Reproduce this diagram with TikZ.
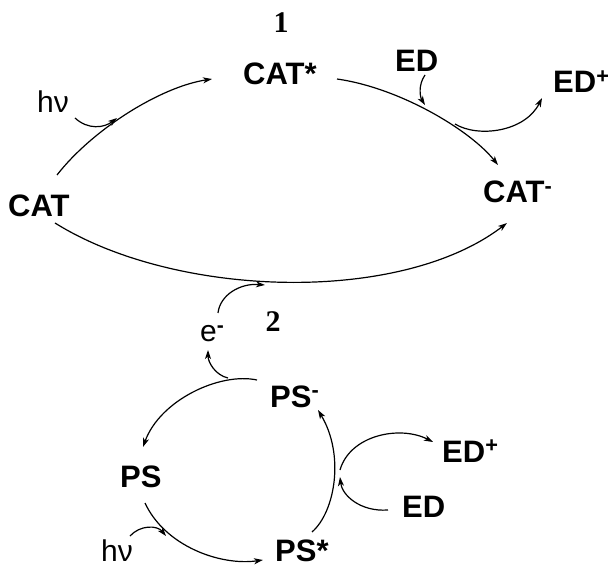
\documentclass[tikz,border=0pt]{standalone}
\usepackage{fontspec}
\setmainfont{Liberation Sans}
\newfontfamily\numfont{Liberation Serif}
\usetikzlibrary{arrows.meta}
\begin{document}
\begin{tikzpicture}[x=1pt,y=-1pt,
  lbl/.style={inner sep=0pt,font=\fontsize{31}{36}\selectfont\bfseries},
  rlbl/.style={inner sep=0pt,font=\fontsize{30}{36}\selectfont},
  num/.style={inner sep=0pt,font=\fontsize{30}{36}\selectfont\numfont\bfseries},
  arr/.style={line width=1.2pt,-{Stealth[length=9pt,width=6pt,inset=2.5pt]}},
  ln/.style={line width=1.2pt}]
\useasboundingbox (0,0) rectangle (608,569);
% labels
\node[num,anchor=base] (one) at (281,33) {1};
\node[lbl,anchor=base west] (cat) at (8,217) {CAT};
\node[lbl,anchor=base west] (catstar) at (243,85) {CAT*};
\node[lbl,anchor=base west] (catm) at (483,203) {CAT\textsuperscript{-}};
\node[lbl,anchor=base west] (edtop) at (395,72) {ED};
\node[lbl,anchor=base west] (edptop) at (553,93) {ED\textsuperscript{+}};
\node[rlbl,anchor=base west] (hv1) at (37,113) {hν};
\node[rlbl,anchor=base west] (em) at (200,342) {e\textsuperscript{\bfseries -}};
\node[num,anchor=base] (two) at (273,332) {2};
\node[lbl,anchor=base west] (psm) at (270,407) {PS\textsuperscript{-}};
\node[lbl,anchor=base west] (edpbot) at (442,462) {ED\textsuperscript{+}};
\node[lbl,anchor=base west] (ps) at (120,487) {PS};
\node[lbl,anchor=base west] (edbot) at (402,517) {ED};
\node[lbl,anchor=base west] (psstar) at (275,561) {PS*};
\node[rlbl,anchor=base west] (hv2) at (101,561) {hν};
% coordinates
\coordinate (c1s) at (57,175);
\coordinate (c1e) at (212,79);
\coordinate (h1s) at (75,118);
\coordinate (h1e) at (117,118);
\coordinate (c2s) at (337,79);
\coordinate (c2e) at (498,165);
\coordinate (e1s) at (425,75);
\coordinate (e1e) at (425,105);
\coordinate (p1s) at (455,124);
\coordinate (p1e) at (542,98);
\coordinate (c3s) at (55,223);
\coordinate (c3e) at (507,223);
\coordinate (els) at (218,313);
\coordinate (ele) at (265,285);
\coordinate (b1s) at (257,380);
\coordinate (b1e) at (143,447);
\coordinate (ebs) at (228,378);
\coordinate (ebe) at (208,350);
\coordinate (b2s) at (145,503);
\coordinate (b2e) at (263,560);
\coordinate (h2s) at (130,536);
\coordinate (h2e) at (166,536);
\coordinate (b3s) at (312,532);
\coordinate (b3e) at (318,410);
\coordinate (e2s) at (388,510);
\coordinate (e2e) at (340,477);
\coordinate (p2s) at (340,470);
\coordinate (p2e) at (433,442);
% cycle 1
\draw[arr] (c1s) .. controls (92,130) and (160,87) .. (c1e);
\draw[arr] (h1s) .. controls (88,130) and (104,128) .. (h1e);
\draw[arr] (c2s) .. controls (400,88) and (470,130) .. (c2e);
\draw[arr] (e1s) .. controls (418,85) and (420,97) .. (e1e);
\draw[arr] (p1s) .. controls (478,138) and (525,132) .. (p1e);
\draw[arr] (c3s) .. controls (175,298) and (400,305) .. (c3e);
\draw[arr] (els) .. controls (220,295) and (240,283) .. (ele);
% cycle 2
\draw[arr] (b1s) .. controls (220,372) and (160,400) .. (b1e);
\draw[arr] (ebs) .. controls (215,375) and (208,362) .. (ebe);
\draw[arr] (b2s) .. controls (165,546) and (220,566) .. (b2e);
\draw[arr] (h2s) .. controls (140,525) and (157,525) .. (h2e);
\draw[arr] (b3s) .. controls (335,512) and (345,455) .. (b3e);
\draw[arr] (e2s) .. controls (360,512) and (342,495) .. (e2e);
\draw[arr] (p2s) .. controls (350,435) and (400,425) .. (p2e);
\end{tikzpicture}
\end{document}
